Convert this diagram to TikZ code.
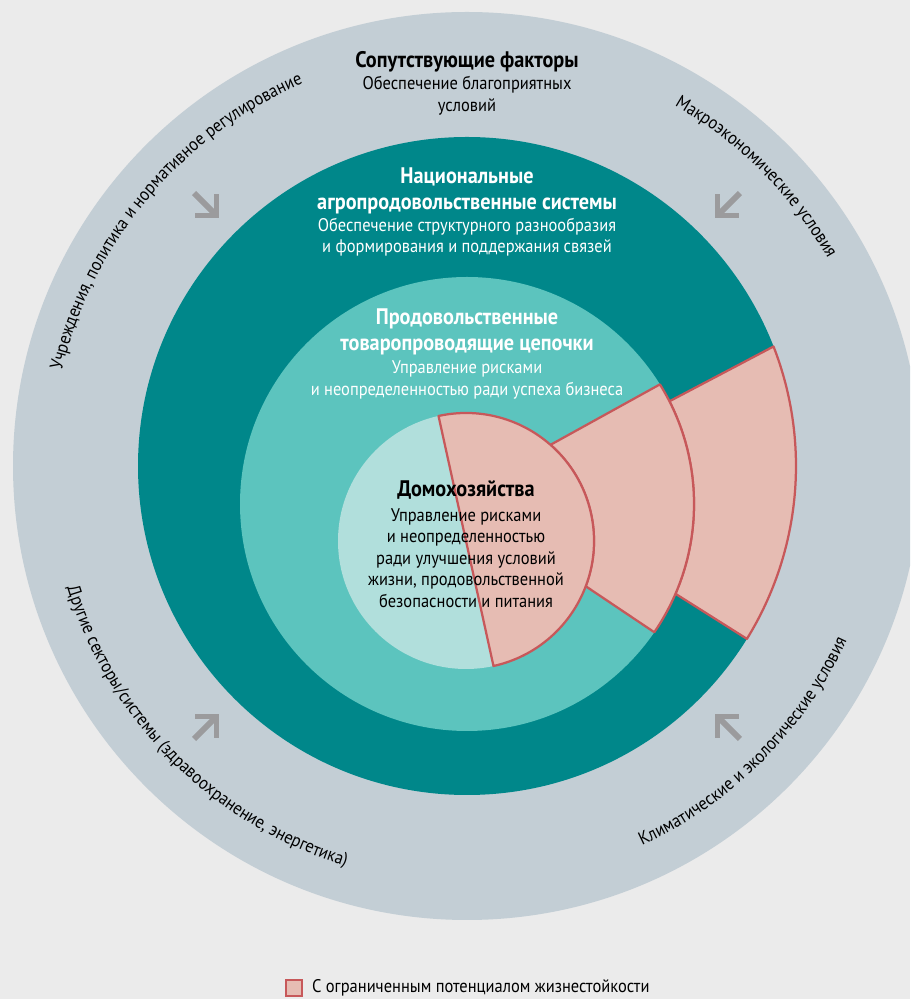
\documentclass[tikz,border=0pt]{standalone}
\usepackage{fontspec}
\setmainfont{PT Sans}[FakeStretch=0.9]
\usetikzlibrary{calc,decorations.text}
\newcommand\curvefont{\fontsize{13}{15}\selectfont}

\begin{document}
\begin{tikzpicture}[x=0.025cm,y=0.025cm,
    ringtitle/.style={font=\bfseries\fontsize{16}{18.5}\selectfont, align=center, inner sep=0pt},
    ringtext/.style={font=\fontsize{13}{15.3}\selectfont, align=center, inner sep=0pt},
    limited/.style={fill=pinkfill, draw=pinkline, line width=1.6pt, line join=round},
    curvetext/.style={decorate, decoration={text along path, text align=center, text={|\curvefont|#1}}},
    inflow/.pic={
        \draw[arrowgrey, line width=3.4pt, miter limit=4] (-15,15) -- (0,0) -- (-15,-15);
        \draw[arrowgrey, line width=4.2pt] (-32,0) -- (-3,0);
    }]
    \definecolor{bggrey}{HTML}{EBEBEB}
    \definecolor{outerring}{HTML}{C3CED5}
    \definecolor{darkteal}{HTML}{00878A}
    \definecolor{midteal}{HTML}{5CC4BE}
    \definecolor{lightteal}{HTML}{B1DFDC}
    \definecolor{pinkfill}{HTML}{E6BCB3}
    \definecolor{pinkline}{HTML}{C7585A}
    \definecolor{arrowgrey}{HTML}{9B9B9D}
    \useasboundingbox (0,0) rectangle (910,999);
    \clip (0,0) rectangle (910,999);
    \fill[bggrey] (0,0) rectangle (910,999);
    \coordinate (cen) at (467,533);
    \coordinate (midc) at (467,495);
    \coordinate (homec) at (466,458);
    % the rings
    \fill[outerring] (cen) circle (454);
    \fill[darkteal] (cen) circle (329);
    \fill[midteal] (midc) circle (227);
    \fill[lightteal] (homec) circle (128);
    % limited resilience
    \draw[limited] ($(midc)+(26.9:227)$) -- ($(cen)+(21.3:329)$) arc[start angle=21.3, end angle=-31.7, radius=329]
        -- ($(midc)+(-23.3:227)$) arc[start angle=-23.3, end angle=26.9, radius=227] -- cycle;
    \draw[limited] ($(homec)+(48.7:128)$) -- ($(midc)+(31.8:227)$) arc[start angle=31.8, end angle=-34.4, radius=227]
        -- ($(homec)+(-20.7:128)$) arc[start angle=-20.7, end angle=48.7, radius=128] -- cycle;
    \draw[limited] ($(homec)+(102.4:128)$) arc[start angle=102.4, end angle=-77.6, radius=128] -- cycle;
    % texts
    \node[ringtitle] (enabling) at (467,937) {Сопутствующие факторы};
    \node[ringtext] (enablingtxt) at (467,903) {Обеспечение благоприятных\\условий};
    \node[ringtitle, text=white] (national) at (467,808) {Национальные\\агропродовольственные системы};
    \node[ringtext, text=white] (nationaltxt) at (467,762) {Обеспечение структурного разнообразия\\и формирования и поддержания связей};
    \node[ringtitle, text=white] (chains) at (467,667) {Продовольственные\\товаропроводящие цепочки};
    \node[ringtext, text=white] (chainstxt) at (467,619) {Управление рисками\\и неопределенностью ради успеха бизнеса};
    \node[ringtitle] (homes) at (466,509) {Домохозяйства};
    \node[ringtext] (homestxt) at (466,441) {Управление рисками\\и неопределенностью\\ради улучшения условий\\жизни, продовольственной\\безопасности и питания};
    % outer factors
    \path[shift={(cen)}, curvetext={Учреждения, политика и нормативное регулирование}] (180:416) arc[start angle=180, end angle=100, radius=416];
    \path[shift={(cen)}, curvetext={Макроэкономические условия}] (85:416) arc[start angle=85, end angle=5, radius=416];
    \path[shift={(cen)}, curvetext={Другие секторы/системы (здравоохранение, энергетика)}] (185:418) arc[start angle=185, end angle=265, radius=418];
    \path[shift={(cen)}, curvetext={Климатические и экологические условия}] (-85:418) arc[start angle=-85, end angle=-5, radius=418];
    \pic[rotate=-45] at ($(cen)+(135:354)$) {inflow};
    \pic[rotate=-135] at ($(cen)+(45:354)$) {inflow};
    \pic[rotate=45] at ($(cen)+(225:354)$) {inflow};
    \pic[rotate=135] at ($(cen)+(-45:354)$) {inflow};
    % legend
    \node[draw=pinkline, fill=pinkfill, line width=1.2pt, minimum size=0.4cm, inner sep=0pt] (key) at (294,11) {};
    \node[ringtext, anchor=west] (keytxt) at ($(key.east)+(9,0)$) {С ограниченным потенциалом жизнестойкости};
\end{tikzpicture}
\end{document}
